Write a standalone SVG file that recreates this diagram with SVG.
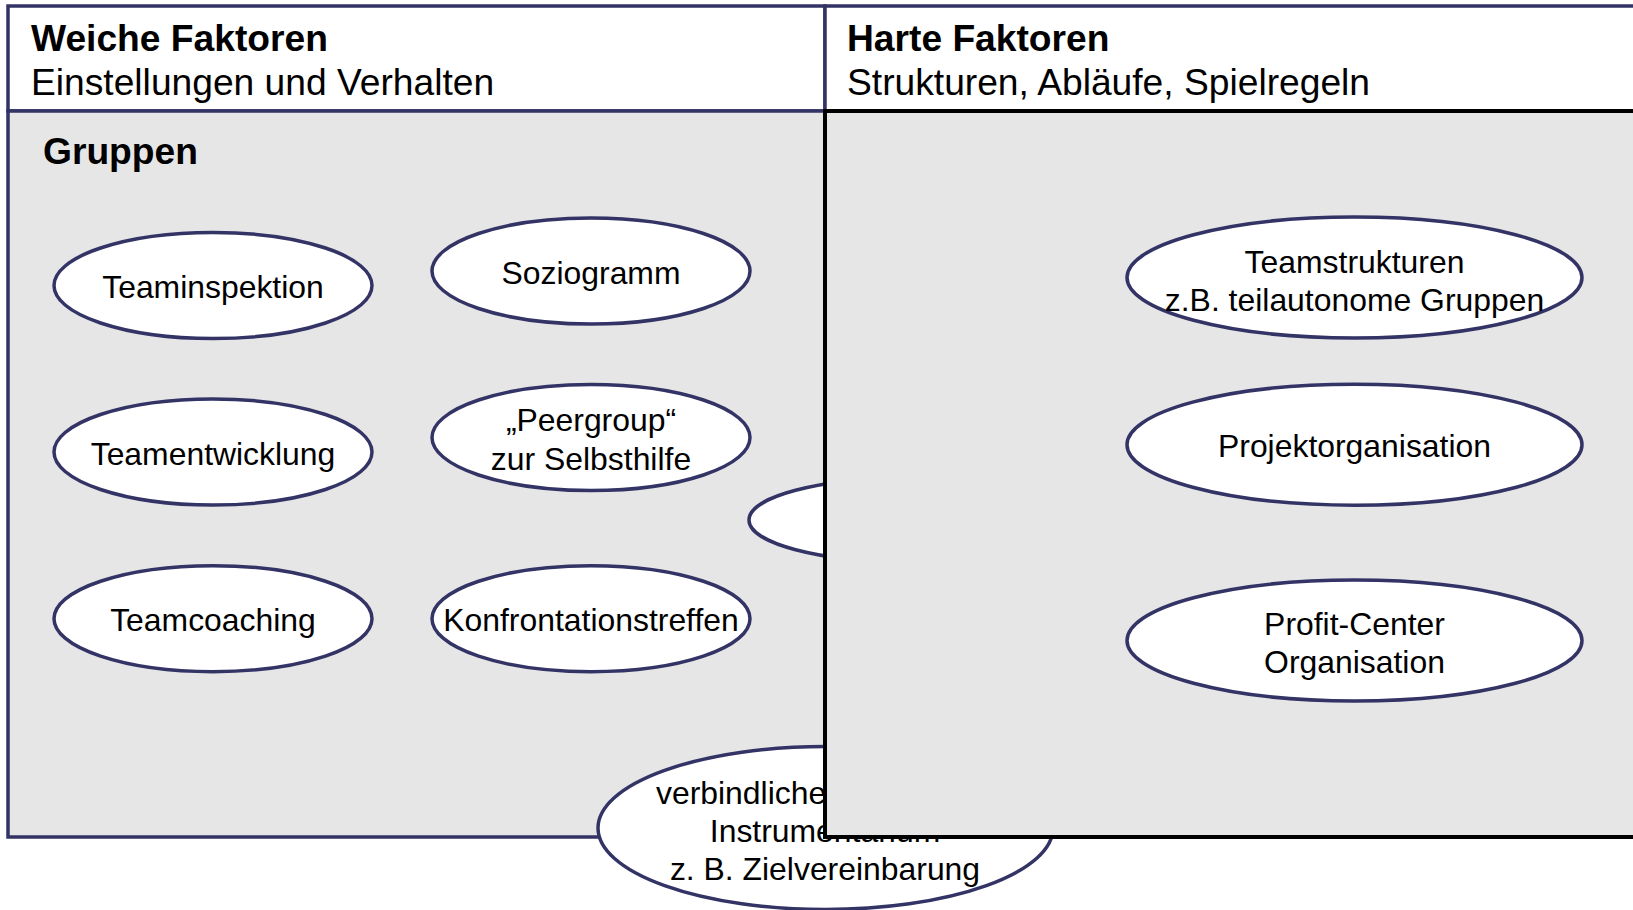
<svg xmlns="http://www.w3.org/2000/svg" width="1633" height="910" viewBox="0 0 1633 910">
<style>
.hdr{fill:#ffffff;stroke:#333366;stroke-width:3.5}
.body{fill:#e6e6e6;stroke:#333366;stroke-width:3.5}
.body2{fill:#e6e6e6;stroke:#000000;stroke-width:4}
.el{fill:#ffffff;stroke:#333366;stroke-width:3.5}
text{font-family:"Liberation Sans",Arial,sans-serif;fill:#000000}
.t{font-size:37.2px;font-weight:bold}
.s{font-size:37.2px}
.l{font-size:31.9px;text-anchor:middle}
</style>
<rect width="1633" height="910" fill="#ffffff"/>
<g id="left-panel">
<rect class="hdr" x="8" y="6" width="817" height="105"/>
<rect class="body" x="8" y="111" width="817" height="726"/>
<text class="t" x="31" y="51">Weiche Faktoren</text>
<text class="s" x="31" y="95">Einstellungen und Verhalten</text>
<text class="t" x="43" y="163.5">Gruppen</text>
</g>
<g id="connectors"></g>
<g id="n-teaminspektion"><ellipse class="el" cx="213" cy="285.5" rx="159" ry="53"/><text class="l" x="213" y="298">Teaminspektion</text></g>
<g id="n-soziogramm"><ellipse class="el" cx="591" cy="271" rx="159" ry="53"/><text class="l" x="591" y="283.5">Soziogramm</text></g>
<g id="n-teamentwicklung"><ellipse class="el" cx="213" cy="452" rx="159" ry="53"/><text class="l" x="213" y="464.5">Teamentwicklung</text></g>
<g id="n-peergroup"><ellipse class="el" cx="591" cy="437.5" rx="159" ry="53"/><text class="l" x="591" y="431">„Peergroup“</text><text class="l" x="591" y="469.5">zur Selbsthilfe</text></g>
<g id="n-teamcoaching"><ellipse class="el" cx="213" cy="618.7" rx="159" ry="53"/><text class="l" x="213" y="631.2">Teamcoaching</text></g>
<g id="n-konfrontation"><ellipse class="el" cx="591" cy="618.7" rx="159" ry="53"/><text class="l" x="591" y="631.2">Konfrontationstreffen</text></g>
<g id="n-hidden"><ellipse class="el" cx="908" cy="520" rx="159" ry="42"/></g>
<g id="n-verbindlich"><ellipse class="el" cx="825.5" cy="828" rx="227.5" ry="81.5"/><text x="656" y="804" style="font-size:31.9px">verbindliche</text><text class="l" x="825" y="842">Instrumentarium</text><text class="l" x="825" y="880">z. B. Zielvereinbarung</text></g>
<g id="right-panel">
<rect class="hdr" x="825" y="6" width="820" height="105"/>
<rect class="body2" x="825" y="111" width="820" height="726"/>
<text class="t" x="847" y="51">Harte Faktoren</text>
<text class="s" x="847" y="95">Strukturen, Abläufe, Spielregeln</text>
</g>
<g id="n-teamstrukturen"><ellipse class="el" cx="1354.5" cy="277.5" rx="227.5" ry="60.5"/><text class="l" x="1354.5" y="272.5">Teamstrukturen</text><text class="l" x="1354.5" y="310.5">z.B. teilautonome Gruppen</text></g>
<g id="n-projekt"><ellipse class="el" cx="1354.5" cy="444.7" rx="227.5" ry="60.5"/><text class="l" x="1354.5" y="457">Projektorganisation</text></g>
<g id="n-profit"><ellipse class="el" cx="1354.5" cy="640.5" rx="227.5" ry="60.5"/><text class="l" x="1354.5" y="634.5">Profit-Center</text><text class="l" x="1354.5" y="672.5">Organisation</text></g>
</svg>
